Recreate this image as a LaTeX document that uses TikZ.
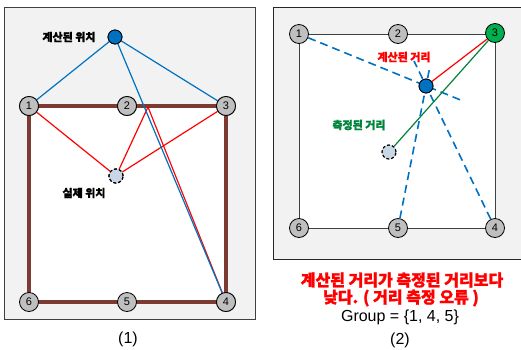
\documentclass[tikz,border=0pt]{standalone}
\usepackage{fontspec}
\setmainfont{Liberation Sans}
\newfontfamily\kr{Noto Sans CJK KR}[BoldFeatures={FakeBold=1.5}]
\begin{document}
\begin{tikzpicture}[x=1pt,y=-1pt,
  panel/.style={draw=black!75,fill=black!5,line width=1pt},
  num/.style={circle,draw=black,fill=black!25,line width=0.8pt,minimum size=19pt,inner sep=0pt,font=\fontsize{11}{11}\selectfont},
  calc/.style={circle,draw=black,fill=blueC,line width=0.8pt,minimum size=14pt,inner sep=0pt},
  real/.style={circle,draw=black,dashed,dash pattern=on 3pt off 2pt,fill=realC,line width=1.2pt,minimum size=14pt,inner sep=0pt},
  lbl/.style={font=\kr\bfseries\fontsize{11}{11}\selectfont,inner sep=0pt},
  bl/.style={draw=blueC,line width=1.2pt},
  rl/.style={draw=red,line width=1.2pt},
  bd/.style={draw=blueC,line width=1.6pt,dash pattern=on 8pt off 5pt},
]
\definecolor{blueC}{HTML}{0070C0}
\definecolor{realC}{HTML}{C9D6E6}
\definecolor{brownC}{HTML}{7B3A32}
\definecolor{greenN}{HTML}{00B050}
\definecolor{greenL}{HTML}{00843C}
\useasboundingbox (0,0) rectangle (521,349);
\clip (0,0) rectangle (521,349);
% ---------- left panel ----------
\fill[white] (0,0) rectangle (521,349);
\draw[panel] (4,7) rectangle (255,319);
\fill[white] (29,106) rectangle (226,302);
\draw[brownC,line width=3.5pt] (29,106) -- (226,106) -- (226,302) -- (29,302) -- cycle;
\node[num] (a1) at (29,106) {1};
\node[num] (a2) at (127,106) {2};
\node[num] (a3) at (226,106) {3};
\node[num] (a4) at (226,302) {4};
\node[num] (a5) at (127,302) {5};
\node[num] (a6) at (29,302) {6};
\node[calc] (ac) at (115,37) {};
\node[real] (ar) at (116,176) {};
\coordinate (bend) at (148,107);
\draw[rl] (a1) -- (ar);
\draw[rl] (a3) -- (ar);
\draw[rl] (ar) -- (bend) -- (a4);
\draw[bl] (ac) -- (a1);
\draw[bl] (ac) -- (a3);
\draw[bl] (ac) -- (a4);
\node[num] at (a1) {1};
\node[num] at (a2) {2};
\node[num] at (a3) {3};
\node[num] at (a4) {4};
\node[calc] at (ac) {};
\node[real] at (ar) {};
\node[lbl] (tcalc) at (69,37) {계산된 위치};
\node[lbl] (treal) at (84,193) {실제 위치};
\node[font=\fontsize{16}{16}\selectfont] (t1) at (128,339) {(1)};
% ---------- right panel ----------
\draw[panel,draw=black!85,line width=1pt] (273,7) rectangle (530,259);
\fill[white] (299,34) rectangle (495,228);
\draw[black!75,line width=1pt] (299,34) -- (495,34) -- (495,228) -- (299,228) -- cycle;
\node[num] (b1) at (299,34) {1};
\node[num] (b2) at (398,34) {2};
\node[num,fill=greenN] (b3) at (495,33) {3};
\node[num] (b4) at (495,228) {4};
\node[num] (b5) at (398,228) {5};
\node[num] (b6) at (299,228) {6};
\node[calc] (bc) at (426,86) {};
\node[real] (br) at (389,152) {};
\coordinate (e1) at (463,101);
\coordinate (e5) at (430,66);
\coordinate (e4) at (414,61);
\draw[bd] (b1) -- (e1);
\draw[bd] (b5) -- (e5);
\draw[bd] (b4) -- (e4);
\draw[rl] (bc) -- (b3);
\draw[draw=greenL,line width=1.2pt] (b3) -- (br);
\node[calc] at (bc) {};
\node[lbl,text=red] (tcd) at (404,57) {계산된 거리};
\node[lbl,text=greenL] (tmd) at (359,125) {측정된 거리};
\node[font=\kr\bfseries\fontsize{16}{16}\selectfont,text=red,inner sep=0pt] (m1) at (402,280) {계산된 거리가 측정된 거리보다};
\node[font=\kr\bfseries\fontsize{16}{16}\selectfont,text=red,inner sep=0pt] (m2) at (401,298) {낮다. ( 거리 측정 오류 )};
\node[font=\fontsize{16}{16}\selectfont,inner sep=0pt] (m3) at (400,317) {Group = \{1, 4, 5\}};
\node[font=\fontsize{16}{16}\selectfont,inner sep=0pt] (t2) at (400,340) {(2)};
\end{tikzpicture}
\end{document}
